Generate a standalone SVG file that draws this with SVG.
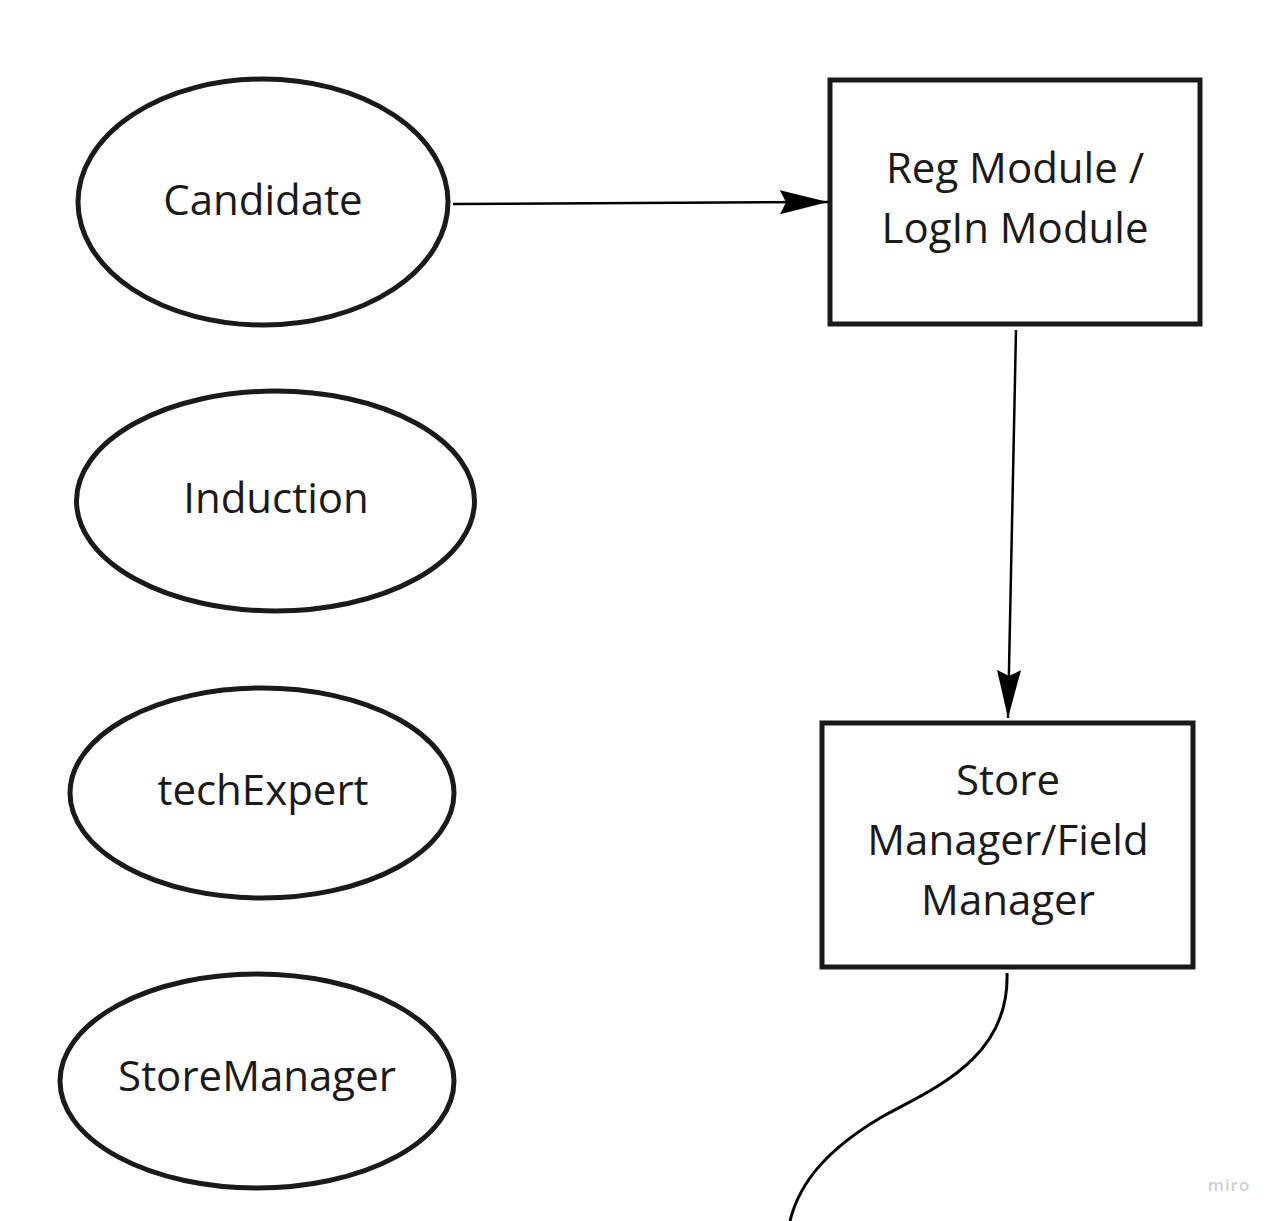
<svg xmlns="http://www.w3.org/2000/svg" width="1279" height="1221" viewBox="0 0 1279 1221">
<defs>
<style>
.shape{fill:#ffffff;stroke:#1a1a1a;stroke-width:5}
.lbl{font-family:"Open Sans","Noto Sans",sans-serif;font-size:42px;fill:#1a1a1a;text-anchor:middle}
.conn{fill:none;stroke:#000000;stroke-width:2.5}
</style>
<marker id="arr" viewBox="0 0 48 24" refX="48" refY="12" markerWidth="48" markerHeight="24" markerUnits="userSpaceOnUse" orient="auto">
<path d="M0,0 L48,12 L0,24 L6,12 Z" fill="#000000"/>
</marker>
</defs>
<rect width="1279" height="1221" fill="#ffffff"/>
<g id="candidate">
<ellipse class="shape" cx="263" cy="202" rx="185" ry="123"/>
<text class="lbl" x="263" y="215">Candidate</text>
</g>
<g id="induction">
<ellipse class="shape" cx="275.5" cy="501" rx="199" ry="110"/>
<text class="lbl" x="276" y="513">Induction</text>
</g>
<g id="techexpert">
<ellipse class="shape" cx="262" cy="793" rx="192" ry="105"/>
<text class="lbl" x="263" y="805">techExpert</text>
</g>
<g id="storemanager">
<ellipse class="shape" cx="257" cy="1081" rx="197" ry="107"/>
<text class="lbl" x="257" y="1091">StoreManager</text>
</g>
<g id="regmodule">
<rect class="shape" x="830" y="80" width="370" height="244"/>
<text class="lbl" x="1015" y="183">Reg Module /</text>
<text class="lbl" x="1015" y="243">LogIn Module</text>
</g>
<g id="storefieldmanager">
<rect class="shape" x="822" y="723" width="371" height="244"/>
<text class="lbl" x="1008" y="795">Store</text>
<text class="lbl" x="1008" y="855">Manager/Field</text>
<text class="lbl" x="1008" y="915">Manager</text>
</g>
<g id="connectors">
<path class="conn" d="M453,204 L828,202" marker-end="url(#arr)"/>
<path class="conn" d="M1016,330 L1008,718" marker-end="url(#arr)"/>
<path class="conn" style="stroke-width:3" d="M1007,973 C1010,1060 930,1090 880,1118 C830,1148 800,1180 790,1221"/>
</g>
<text x="1229" y="1191" font-family="Open Sans, sans-serif" font-size="17" font-weight="600" letter-spacing="1" fill="#cfcfcf" text-anchor="middle">miro</text>
</svg>
